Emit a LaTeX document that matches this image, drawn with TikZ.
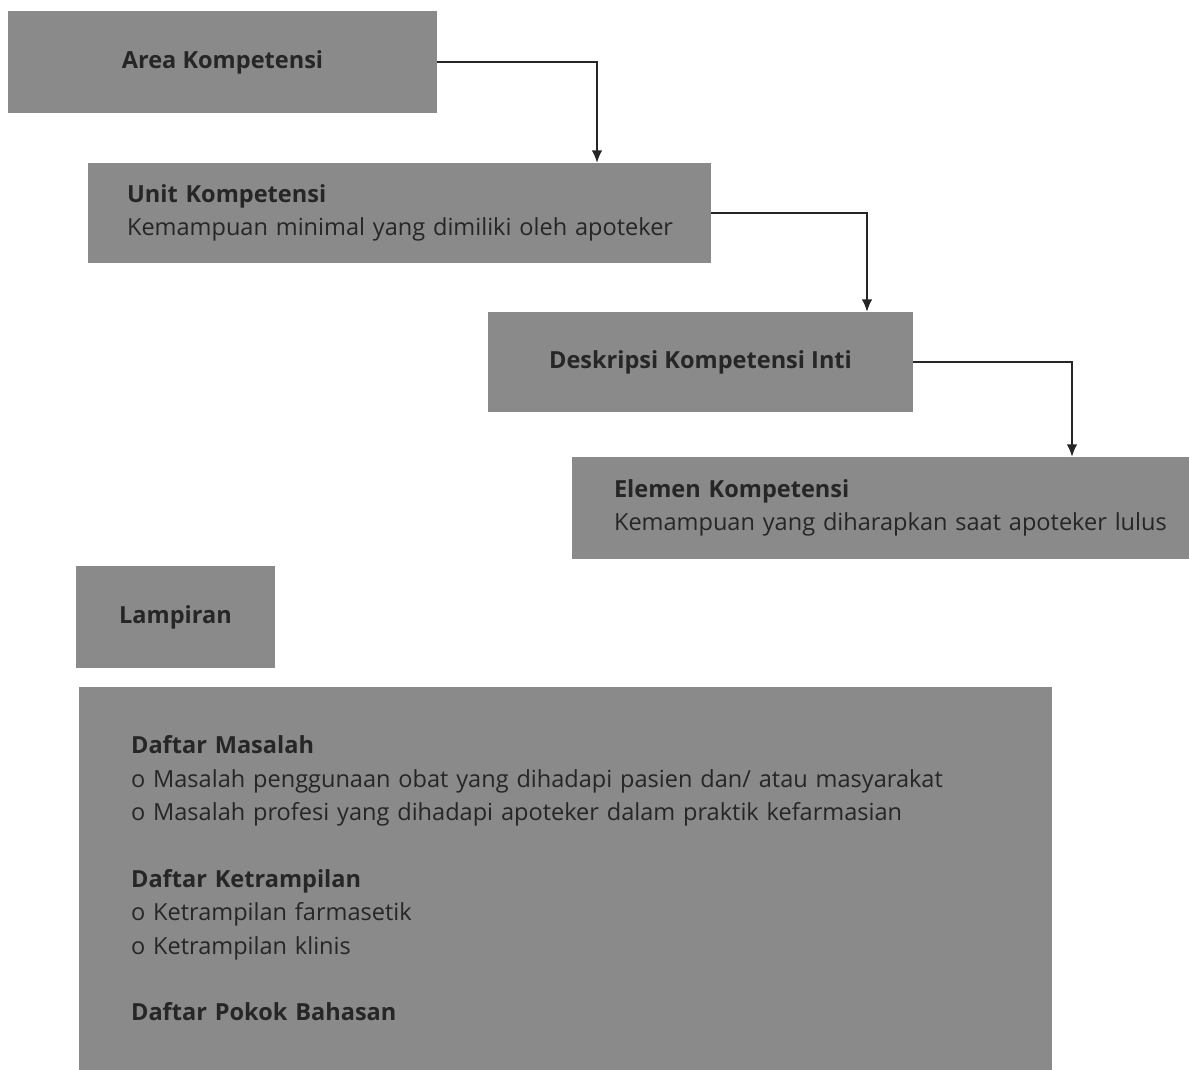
\documentclass[tikz,border=0pt]{standalone}
\usepackage{fontspec}
\setmainfont{Open Sans}
\usetikzlibrary{arrows.meta}
\definecolor{boxgray}{HTML}{8A8A8A}
\definecolor{txtdark}{HTML}{262626}

\begin{document}
\begin{tikzpicture}[x=0.02cm,y=-0.02cm,
    box/.style={fill=boxgray, draw=none, text=txtdark, inner sep=0pt,
      font=\fontsize{13.4}{19}\selectfont},
    link/.style={-{Latex[length=7pt,width=6pt]}, thick, black!85}]
  \useasboundingbox (0,0) rectangle (1189,1070);
  % the four competence levels
  \node[box, minimum width=8.58cm, minimum height=2.04cm] (area) at (222.5,62) {\textbf{Area Kompetensi}};
  \node[box, minimum height=2cm, inner xsep=0.78cm, text width=10.9cm, align=left] (unit) at (399.5,213)
    {\textbf{Unit Kompetensi}\\\mbox{Kemampuan minimal yang dimiliki oleh apoteker}};
  \node[box, minimum width=8.5cm, minimum height=2cm] (inti) at (700.5,362) {\textbf{Deskripsi Kompetensi Inti}};
  \node[box, minimum height=2.04cm, inner xsep=0.84cm, text width=10.66cm, align=left] (elemen) at (880.5,508)
    {\textbf{Elemen Kompetensi}\\\mbox{Kemampuan yang diharapkan saat apoteker lulus}};
  % attachments
  \node[box, minimum width=3.98cm, minimum height=2.04cm] (lampiran) at (175.5,617) {\textbf{Lampiran}};
  \node[box, minimum height=7.66cm, inner xsep=1.04cm, text width=17.38cm, align=left] (daftar) at (565.5,878.5)
    {\textbf{Daftar Masalah}\\
     o Masalah penggunaan obat yang dihadapi pasien dan/ atau masyarakat\\
     o Masalah profesi yang dihadapi apoteker dalam praktik kefarmasian\\[19pt]
     \textbf{Daftar Ketrampilan}\\
     o Ketrampilan farmasetik\\
     o Ketrampilan klinis\\[19pt]
     \textbf{Daftar Pokok Bahasan}};
  % connectors
  \coordinate (bend1) at (597,0);
  \coordinate (bend2) at (867,0);
  \coordinate (bend3) at (1072,0);
  \draw[link] (area.east) -| (bend1 |- unit.north);
  \draw[link] (unit.east) -| (bend2 |- inti.north);
  \draw[link] (inti.east) -| (bend3 |- elemen.north);
\end{tikzpicture}
\end{document}
